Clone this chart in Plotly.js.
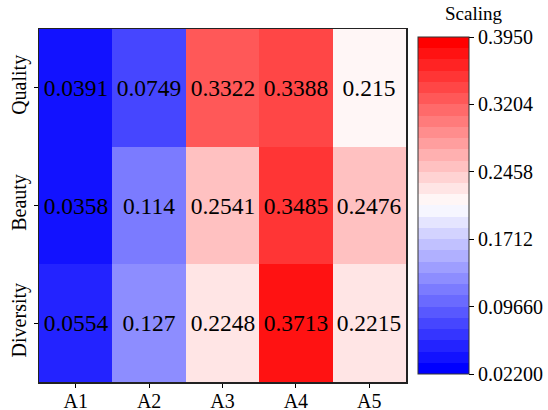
<!DOCTYPE html>
<html>
<head>
<meta charset="utf-8">
<script src="https://cdn.plot.ly/plotly-3.0.1.min.js"></script>
<style>html,body{margin:0;padding:0;background:#fff;}#chart{width:548px;height:410px;}</style>
</head>
<body>
<div id="chart"></div>
<script>
var columns = ['A1', 'A2', 'A3', 'A4', 'A5'];
var rows = ['Quality', 'Beauty', 'Diversity'];
var quality = [0.0391, 0.0749, 0.3322, 0.3388, 0.215];
var beauty = [0.0358, 0.114, 0.2541, 0.3485, 0.2476];
var diversity = [0.0554, 0.127, 0.2248, 0.3713, 0.2215];
var cbTickVals = [0.022, 0.0966, 0.1712, 0.2458, 0.3204, 0.395];
var cbTickText = ['0.02200', '0.09660', '0.1712', '0.2458', '0.3204', '0.3950'];
var zMin = 0.022, zMax = 0.395;
var nLevels = 30;
var FONT = 'Liberation Serif, Times New Roman, serif';

function bwr(x) {
  var r, g, b;
  if (x <= 0.5) { r = 2 * x; g = 2 * x; b = 1; }
  else { r = 1; g = 2 * (1 - x); b = 2 * (1 - x); }
  return 'rgb(' + Math.round(r * 255) + ',' + Math.round(g * 255) + ',' + Math.round(b * 255) + ')';
}
var colorscale = [];
for (var i = 0; i < nLevels; i++) {
  var c = bwr(i / (nLevels - 1));
  colorscale.push([i / nLevels, c]);
  colorscale.push([(i + 1) / nLevels, c]);
}

var z = [quality, beauty, diversity];
var text = z.map(function (r) { return r.map(String); });

var trace = {
  type: 'heatmap',
  x: columns,
  y: rows,
  z: z,
  text: text,
  texttemplate: '%{text}',
  textfont: {family: FONT, size: 23.5, color: '#000'},
  zmin: zMin,
  zmax: zMax,
  colorscale: colorscale,
  hoverinfo: 'none',
  colorbar: {
    x: 1.0327, xanchor: 'left', xpad: 0,
    y: 0.5, yanchor: 'middle', ypad: 0,
    thickness: 51, thicknessmode: 'pixels',
    len: 337, lenmode: 'pixels',
    outlinewidth: 1, outlinecolor: '#333',
    tickmode: 'array', tickvals: cbTickVals, ticktext: cbTickText,
    ticks: 'outside', ticklen: 5, tickwidth: 1, tickcolor: '#000',
    tickfont: {family: FONT, size: 20, color: '#000'}
  }
};

var layout = {
  width: 548, height: 410,
  margin: {l: 39, r: 142, t: 29, b: 28, pad: 0, autoexpand: false},
  paper_bgcolor: '#fff', plot_bgcolor: '#fff',
  font: {family: FONT, color: '#000'},
  xaxis: {
    showline: true, mirror: true, linecolor: '#222', linewidth: 1.5,
    ticks: 'outside', ticklen: 4, tickwidth: 1, tickcolor: '#000',
    ticklabelstandoff: -4,
    tickfont: {size: 20}, showgrid: false, zeroline: false
  },
  yaxis: {
    autorange: 'reversed',
    showline: true, mirror: true, linecolor: '#222', linewidth: 1.5,
    ticks: 'outside', ticklen: 4, tickwidth: 1, tickcolor: '#000',
    tickangle: -90,
    tickfont: {size: 20}, showgrid: false, zeroline: false
  },
  annotations: [{
    text: 'Scaling', xref: 'paper', yref: 'paper',
    x: 1.185, y: 1.043, xanchor: 'center', yanchor: 'middle',
    showarrow: false, font: {family: FONT, size: 19, color: '#000'}
  }]
};

Plotly.newPlot('chart', [trace], layout, {displayModeBar: false, staticPlot: true});
</script>
</body>
</html>
